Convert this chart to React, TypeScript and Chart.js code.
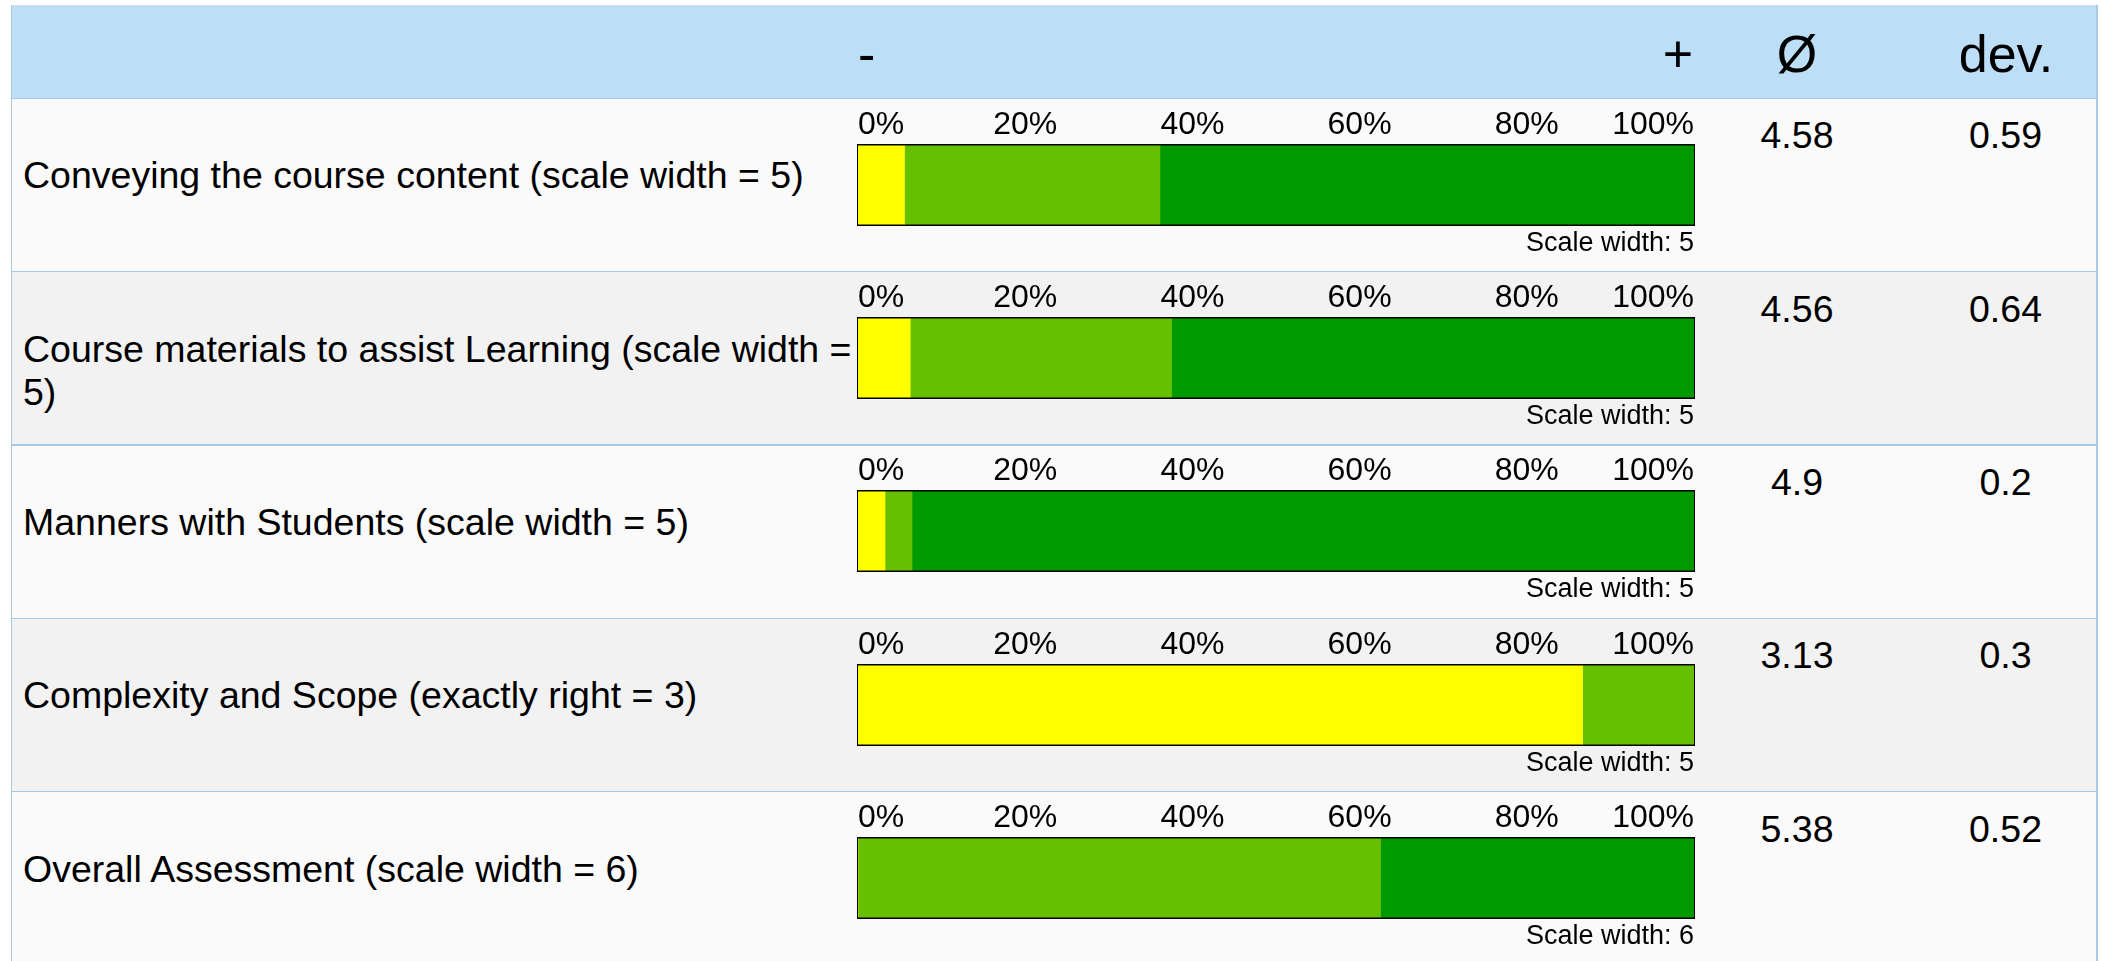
import React, { useEffect, useRef } from 'react';
import { Chart, registerables } from 'chart.js';

Chart.register(...registerables);

// ---- data ----
const categories = [
  'Conveying the course content (scale width = 5)',
  'Course materials to assist Learning (scale width = 5)',
  'Manners with Students (scale width = 5)',
  'Complexity and Scope (exactly right = 3)',
  'Overall Assessment (scale width = 6)',
];
const scaleWidths = [5, 5, 5, 5, 6];
const means = ['4.58', '4.56', '4.9', '3.13', '5.38'];
const devs = ['0.59', '0.64', '0.2', '0.3', '0.52'];
const yellowPct = [5.56, 6.25, 3.23, 86.67, 0];
const lightGreenPct = [30.56, 31.25, 3.23, 13.33, 62.5];
const darkGreenPct = [63.88, 62.5, 93.54, 0, 37.5];
const headerMinus = '-';
const headerPlus = '+';
const headerMean = 'Ø';
const headerDev = 'dev.';
const tickSuffix = '%';
const scaleWidthPrefix = 'Scale width: ';

// ---- style ----
const FONT = "'Liberation Sans', Arial, Helvetica, sans-serif";
const ROW_TOP0 = 98.3;
const ROW_H = 173.35;
const LEFT = 10.5;
const RIGHT = 2097.5;
const BORDER = '#a9c8e1';
const YELLOW = '#ffff00';
const LIGHT_GREEN = '#66bf00';
const DARK_GREEN = '#009900';

Chart.defaults.font.family = FONT;

function BarRow({ index }: { index: number }) {
  const ref = useRef<HTMLCanvasElement | null>(null);
  useEffect(() => {
    const canvas = ref.current;
    if (!canvas) return;
    const border = { display: true, color: '#000', width: 2 };
    const noGrid = { display: false, drawTicks: false };
    const chart = new Chart(canvas, {
      type: 'bar',
      data: {
        labels: [categories[index]],
        datasets: [
          { label: '3', data: [yellowPct[index]], backgroundColor: YELLOW, borderWidth: 0 },
          { label: '4', data: [lightGreenPct[index]], backgroundColor: LIGHT_GREEN, borderWidth: 0 },
          { label: '5', data: [darkGreenPct[index]], backgroundColor: DARK_GREEN, borderWidth: 0 },
        ],
      },
      options: {
        indexAxis: 'y',
        responsive: false,
        maintainAspectRatio: false,
        animation: false,
        events: [],
        layout: { padding: { left: 1, right: 1, top: 0, bottom: 0 } },
        plugins: { legend: { display: false }, tooltip: { enabled: false } },
        datasets: { bar: { barPercentage: 1, categoryPercentage: 1 } },
        scales: {
          x: {
            type: 'linear',
            position: 'top',
            stacked: true,
            min: 0,
            max: 100,
            z: 1,
            grid: noGrid,
            border,
            ticks: {
              stepSize: 20,
              align: 'inner',
              padding: 1,
              autoSkip: false,
              minRotation: 0,
              maxRotation: 0,
              color: '#000',
              font: { size: 32, family: FONT },
              callback: (v: any) => v + tickSuffix,
            },
          },
          x2: {
            type: 'linear',
            position: 'bottom',
            min: 0,
            max: 100,
            z: 1,
            grid: noGrid,
            border,
            ticks: { display: false },
            title: {
              display: true,
              text: scaleWidthPrefix + scaleWidths[index],
              align: 'end',
              color: '#000',
              padding: { top: 3, bottom: 0 },
              font: { size: 27, family: FONT },
            },
          },
          y: {
            type: 'category',
            position: 'left',
            stacked: true,
            z: 1,
            grid: noGrid,
            border,
            ticks: { display: false },
          },
          y2: {
            type: 'category',
            position: 'right',
            z: 1,
            grid: noGrid,
            border,
            ticks: { display: false },
          },
        },
      } as any,
    });
    return () => chart.destroy();
  }, [index]);
  const top = Math.round(ROW_TOP0 + index * ROW_H + 6.3);
  return (
    <canvas
      ref={ref}
      width={838}
      height={155}
      style={{ position: 'absolute', left: 857, top, width: 838, height: 155 }}
    />
  );
}

export default function App() {
  const headerText: React.CSSProperties = {
    position: 'absolute',
    top: 24,
    fontSize: 52,
    lineHeight: '60px',
    color: '#000',
    whiteSpace: 'nowrap',
  };
  return (
    <div
      style={{
        position: 'absolute',
        left: 0,
        top: 0,
        width: 2103,
        height: 961,
        overflow: 'hidden',
        background: '#ffffff',
        fontFamily: FONT,
      }}
    >
      {/* header */}
      <div
        style={{
          position: 'absolute',
          left: LEFT,
          top: 5,
          width: RIGHT - LEFT,
          height: ROW_TOP0 - 5,
          background: '#bcdff7',
          borderTop: '1px solid #d3dfe9',
          boxSizing: 'border-box',
        }}
      />
      <div style={{ ...headerText, left: 858 }}>{headerMinus}</div>
      <div style={{ ...headerText, left: 1493, width: 200, textAlign: 'right' }}>{headerPlus}</div>
      <div style={{ ...headerText, left: 1697, width: 200, textAlign: 'center' }}>{headerMean}</div>
      <div style={{ ...headerText, left: 1906, width: 200, textAlign: 'center' }}>{headerDev}</div>

      {categories.map((cat, i) => {
        const rowTop = ROW_TOP0 + i * ROW_H;
        return (
          <React.Fragment key={i}>
            <div
              style={{
                position: 'absolute',
                left: LEFT,
                top: rowTop,
                width: RIGHT - LEFT,
                height: ROW_H,
                background: i % 2 === 0 ? '#fafafa' : '#f2f2f2',
              }}
            />
            <div
              style={{
                position: 'absolute',
                left: LEFT,
                top: rowTop - 0.75,
                width: RIGHT - LEFT,
                height: 1.5,
                background: BORDER,
              }}
            />
            <div
              style={{
                position: 'absolute',
                left: 23,
                top: rowTop + 56,
                width: 846,
                fontSize: 37.5,
                lineHeight: '43px',
                color: '#000',
              }}
            >
              {cat}
            </div>
            <div
              style={{
                position: 'absolute',
                left: 1697,
                width: 200,
                top: rowTop + 16,
                fontSize: 37.5,
                lineHeight: '43px',
                textAlign: 'center',
                color: '#000',
              }}
            >
              {means[i]}
            </div>
            <div
              style={{
                position: 'absolute',
                left: 1905.5,
                width: 200,
                top: rowTop + 16,
                fontSize: 37.5,
                lineHeight: '43px',
                textAlign: 'center',
                color: '#000',
              }}
            >
              {devs[i]}
            </div>
            <BarRow index={i} />
          </React.Fragment>
        );
      })}

      {/* side borders */}
      <div style={{ position: 'absolute', left: LEFT, top: 5, width: 1.5, height: 961, background: BORDER }} />
      <div style={{ position: 'absolute', left: RIGHT - 1.5, top: 5, width: 1.5, height: 961, background: BORDER }} />
    </div>
  );
}
